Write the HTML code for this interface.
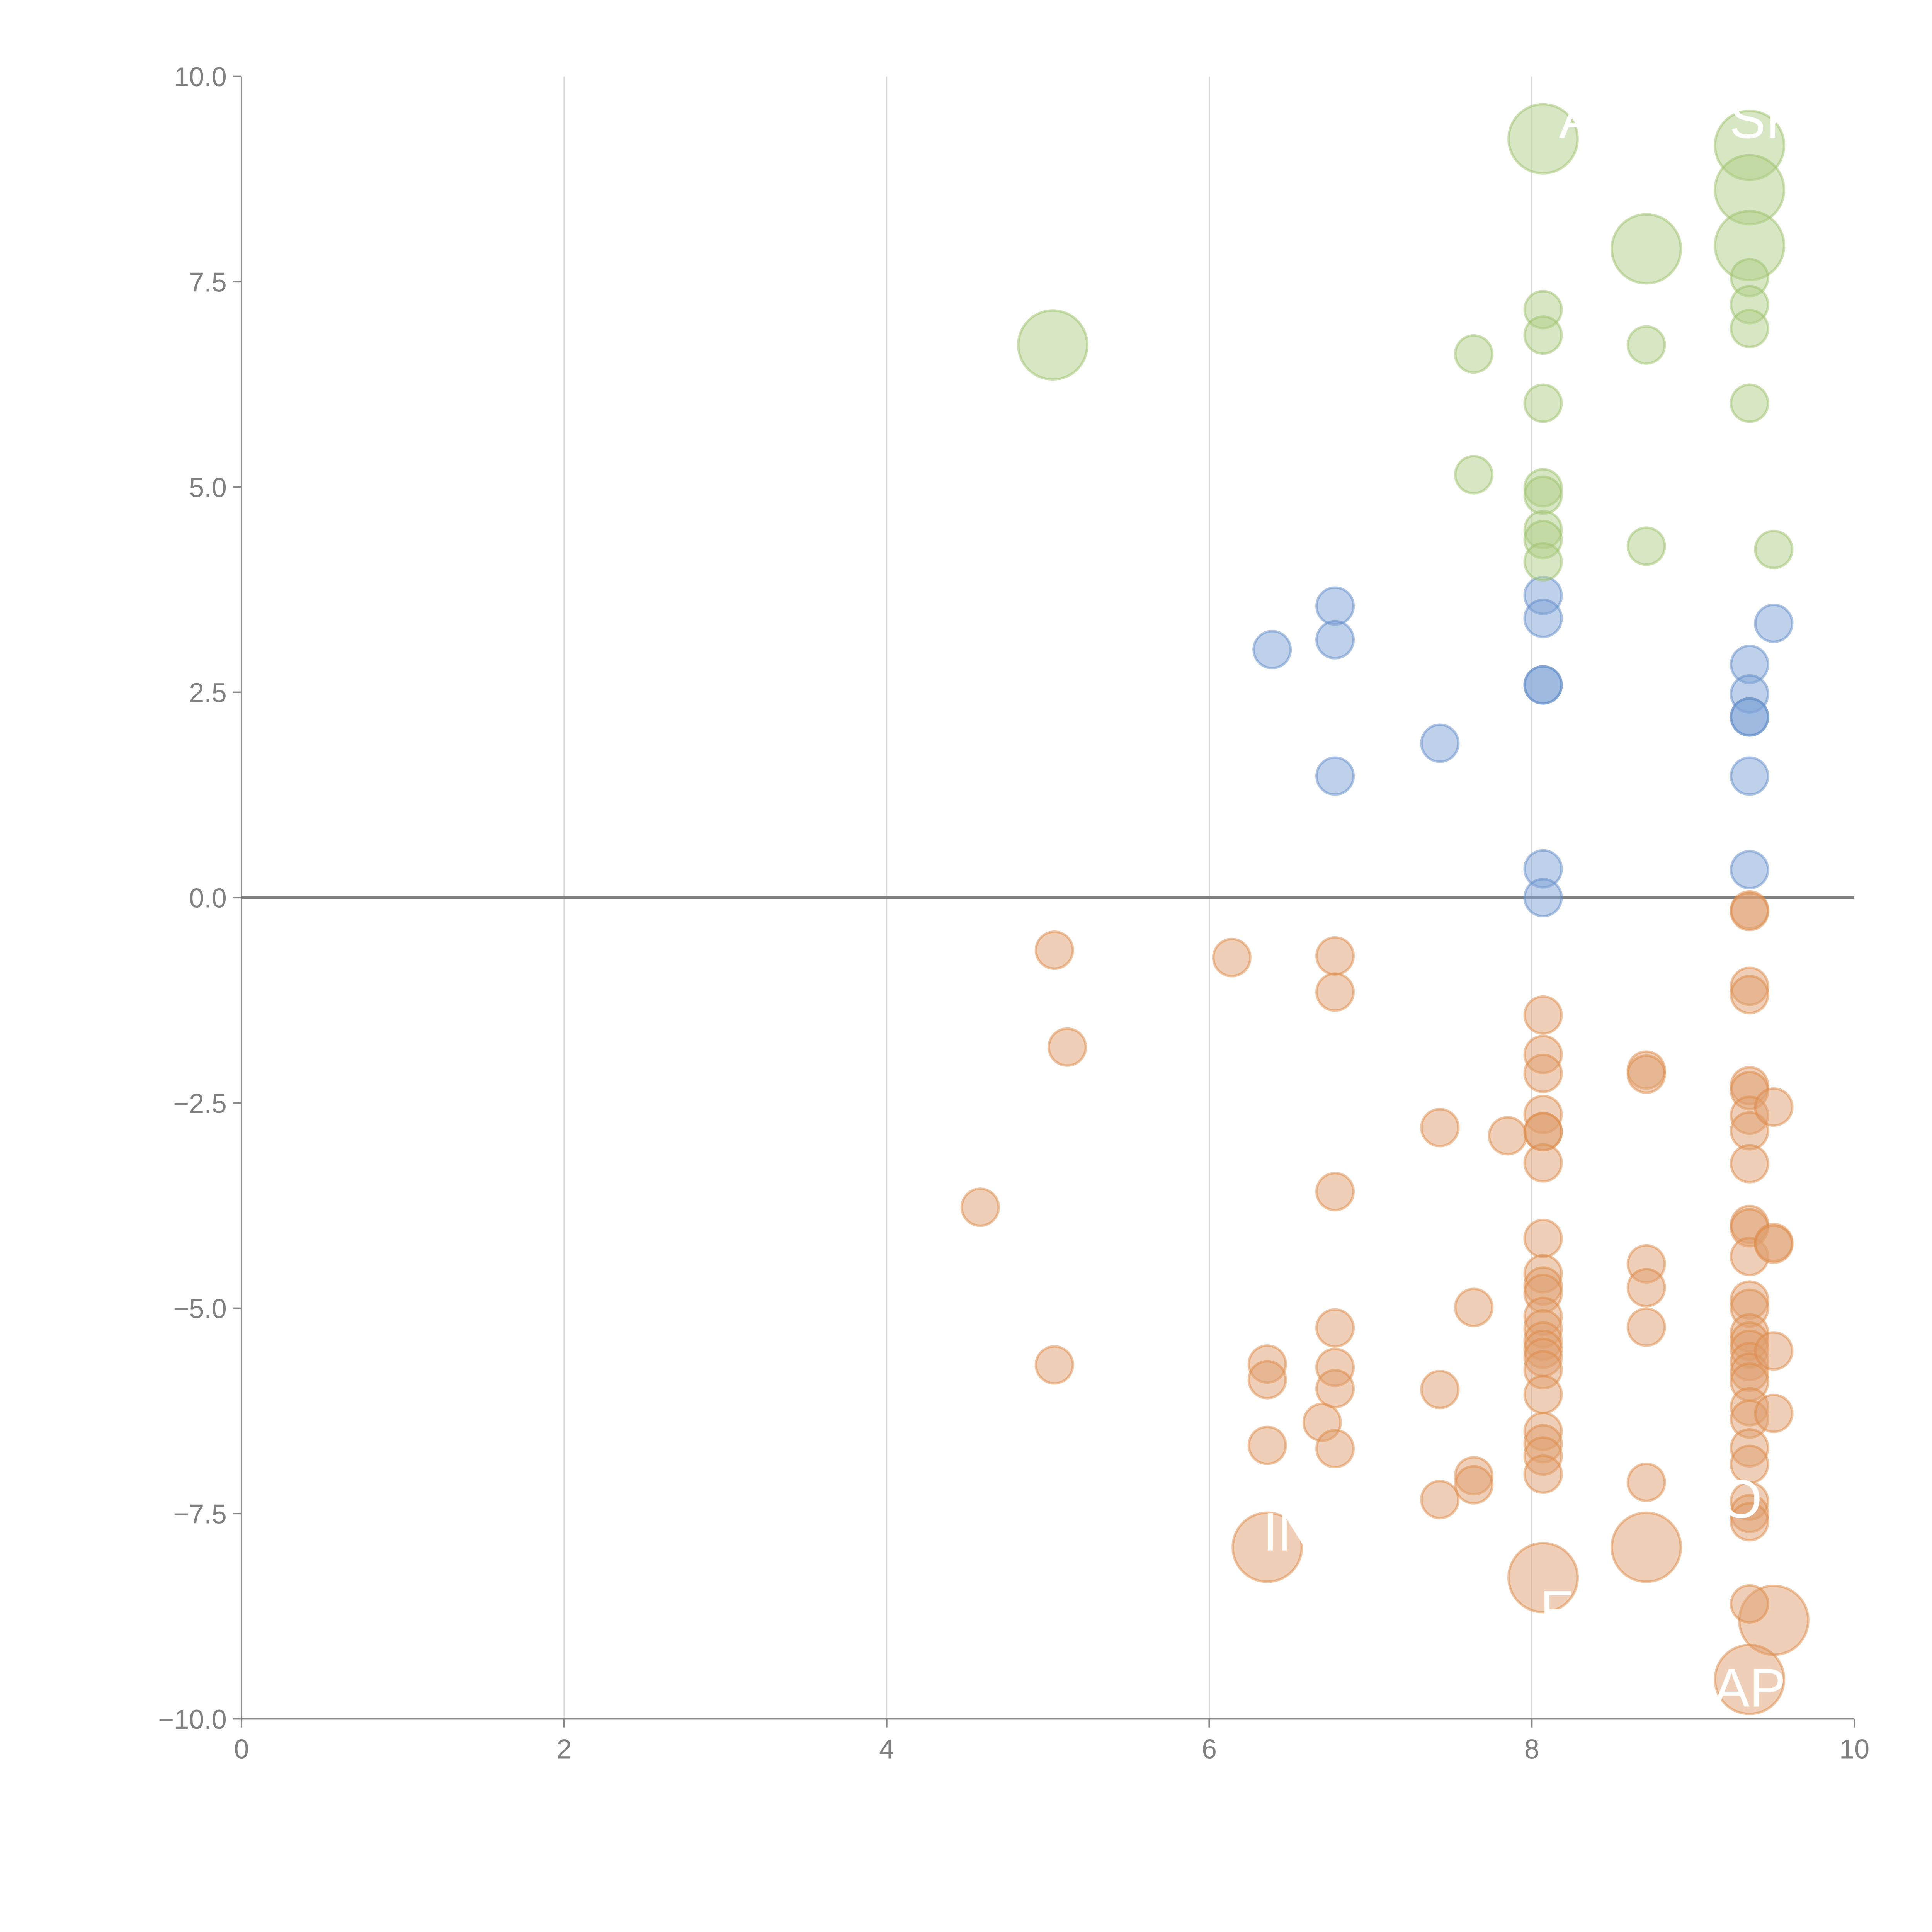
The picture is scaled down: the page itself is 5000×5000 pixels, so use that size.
<!DOCTYPE html>
<html><head><meta charset="utf-8"><style>
html,body{margin:0;padding:0;background:#fff;}
svg{display:block;}
text{font-family:"Liberation Sans",sans-serif;}
</style></head>
<body>
<svg id="chart" width="5000" height="5000" viewBox="0 0 1568 1568" xmlns="http://www.w3.org/2000/svg">
<g id="grid"></g>
<g id="axes"></g>
<g id="marks"></g>
<g id="labels"></g>
</svg>
<script>
const xTicks=[0,2,4,6,8,10];
const yTicks=[-10,-7.5,-5,-2.5,0,2.5,5,7.5,10];
const yTickLabels=["\u221210.0","\u22127.5","\u22125.0","\u22122.5","0.0","2.5","5.0","7.5","10.0"];
const greenX=[8.07,9.35,9.35,9.35,8.71,5.03,8.07,8.07,9.35,9.35,9.35,8.71,7.64,8.07,9.35,7.64,8.07,8.07,8.07,8.07,8.07,8.71,9.50];
const greenY=[9.24,9.16,8.62,7.94,7.90,6.73,7.16,6.85,7.55,7.22,6.93,6.73,6.62,6.02,6.02,5.15,4.99,4.90,4.48,4.36,4.09,4.28,4.24];
const greenBig=[1,1,1,1,1,1,0,0,0,0,0,0,0,0,0,0,0,0,0,0,0,0,0];
const blueX=[6.78,6.78,6.39,6.78,7.43,8.07,8.07,8.07,8.07,8.07,8.07,9.35,9.35,9.35,9.35,9.35,9.35,9.50];
const blueY=[3.55,3.14,3.02,1.48,1.88,3.68,3.40,2.59,2.59,0.35,0.0,2.84,2.48,2.20,2.20,1.48,0.34,3.34];
const orangeX=[5.04,6.14,6.78,6.78,5.12,4.58,6.78,7.43,7.85,5.04,6.36,6.36,6.36,6.70,6.78,6.78,6.78,6.78,7.43,7.43,7.64,7.64,7.64,
6.36,8.07,8.71,9.50,9.35,
8.07,8.07,8.07,8.07,8.07,8.07,8.07,8.07,8.07,8.07,8.07,8.07,8.07,8.07,8.07,8.07,8.07,8.07,8.07,8.07,8.07,8.07,
8.71,8.71,8.71,8.71,8.71,8.71,
9.35,9.35,9.35,9.35,9.35,9.35,9.35,9.35,9.35,9.35,9.35,9.35,9.35,9.35,9.35,9.35,9.35,9.35,9.35,9.35,9.35,9.35,9.35,9.35,9.35,9.35,9.35,9.35,
9.50,9.50,9.50,9.50,9.50];
const orangeY=[-0.64,-0.73,-0.71,-1.15,-1.82,-3.77,-3.58,-2.80,-2.90,-5.69,-5.68,-5.87,-6.67,-6.39,-5.24,-5.72,-5.98,-6.71,-5.99,-7.33,-4.99,-7.04,-7.15,
-7.91,-8.28,-7.91,-8.80,-9.52,
-1.43,-1.91,-2.14,-2.64,-2.85,-2.85,-3.23,-4.15,-4.58,-4.73,-4.82,-5.10,-5.25,-5.40,-5.50,-5.60,-5.75,-6.05,-6.50,-6.65,-6.80,-7.02,
-2.10,-2.15,-4.46,-4.75,-5.23,-7.12,
-0.15,-0.17,-1.08,-1.18,-2.29,-2.35,-2.65,-2.84,-3.24,-3.98,-4.02,-4.37,-4.90,-5.00,-5.30,-5.40,-5.50,-5.65,-5.78,-5.90,-6.20,-6.35,-6.70,-6.90,-7.35,-7.50,-7.60,-8.60,
-2.55,-4.20,-4.22,-5.52,-6.28];
const orangeBig=orangeX.map((_,i)=>(i>=23&&i<=27)?1:0);
const labelText=["A","SK","IN","FI","OT","AP"];
const labelX=[8.28,9.45,6.5,8.2,9.4,9.35];
const labelY=[9.25,9.25,-7.95,-8.9,-7.55,-9.85];

const NS="http://www.w3.org/2000/svg";
const X0=196,X1=1505,Y0=1395,Y1=62;
const sx=v=>X0+(v-0)/(10-0)*(X1-X0);
const sy=v=>Y0-(v+10)/20*(Y0-Y1);
function mk(tag,attrs,parent){const e=document.createElementNS(NS,tag);for(const k in attrs)e.setAttribute(k,attrs[k]);parent.appendChild(e);return e;}
const grid=document.getElementById('grid'),axes=document.getElementById('axes'),marks=document.getElementById('marks'),labels=document.getElementById('labels');

xTicks.forEach(t=>{
  if(t>0&&t<10){const l=mk('line',{x1:sx(t),x2:sx(t),y1:Y1,y2:Y0,stroke:'#dcdcdc','stroke-width':1},grid);
  
  }
  const tk=mk('line',{x1:sx(t),x2:sx(t),y1:Y0,y2:Y0+7,stroke:'#888','stroke-width':1.3},axes);
  
  
  const tx=mk('text',{x:sx(t),y:Y0+32,'text-anchor':'middle','font-size':22,fill:'#808080'},axes);
  tx.textContent=String(t);
  
  
});
yTicks.forEach((t,i)=>{
  const tk=mk('line',{x1:X0-7,x2:X0,y1:sy(t),y2:sy(t),stroke:'#888','stroke-width':1.3},axes);
  
  
  const tx=mk('text',{x:X0-12,y:sy(t)+8,'text-anchor':'end','font-size':22,fill:'#808080'},axes);
  tx.textContent=yTickLabels[i];
  
  
});
const ya=mk('line',{x1:X0,x2:X0,y1:Y1,y2:Y0,stroke:'#888','stroke-width':1.3},axes);


const xa=mk('line',{x1:X0,x2:X1,y1:Y0,y2:Y0,stroke:'#888','stroke-width':1.3},axes);


const zl=mk('line',{x1:X0,x2:X1,y1:sy(0),y2:sy(0),stroke:'#808080','stroke-width':2.2},axes);



function series(xs,ys,big,fill,stroke,name){
  xs.forEach((x,i)=>{
    const c=mk('circle',{cx:sx(x),cy:sy(ys[i]),r:big[i]?28:15,fill:fill,'fill-opacity':0.5,stroke:stroke,'stroke-opacity':0.5,'stroke-width':2},marks);
    
    
  });
}
series(orangeX,orangeY,orangeBig,'#e0a070','#de8a45','bubble-negative');
series(blueX,blueY,blueX.map(()=>0),'#7fa3d6','#5f8cc8','bubble-positive-low');
series(greenX,greenY,greenBig,'#b0cd88','#9cc26a','bubble-positive-high');
labelText.forEach((s,i)=>{
  const t=mk('text',{x:sx(labelX[i]),y:sy(labelY[i]),'text-anchor':'middle','font-size':44,fill:'#fff'},labels);
  t.textContent=s;
  
  
});
</script>
</body></html>
